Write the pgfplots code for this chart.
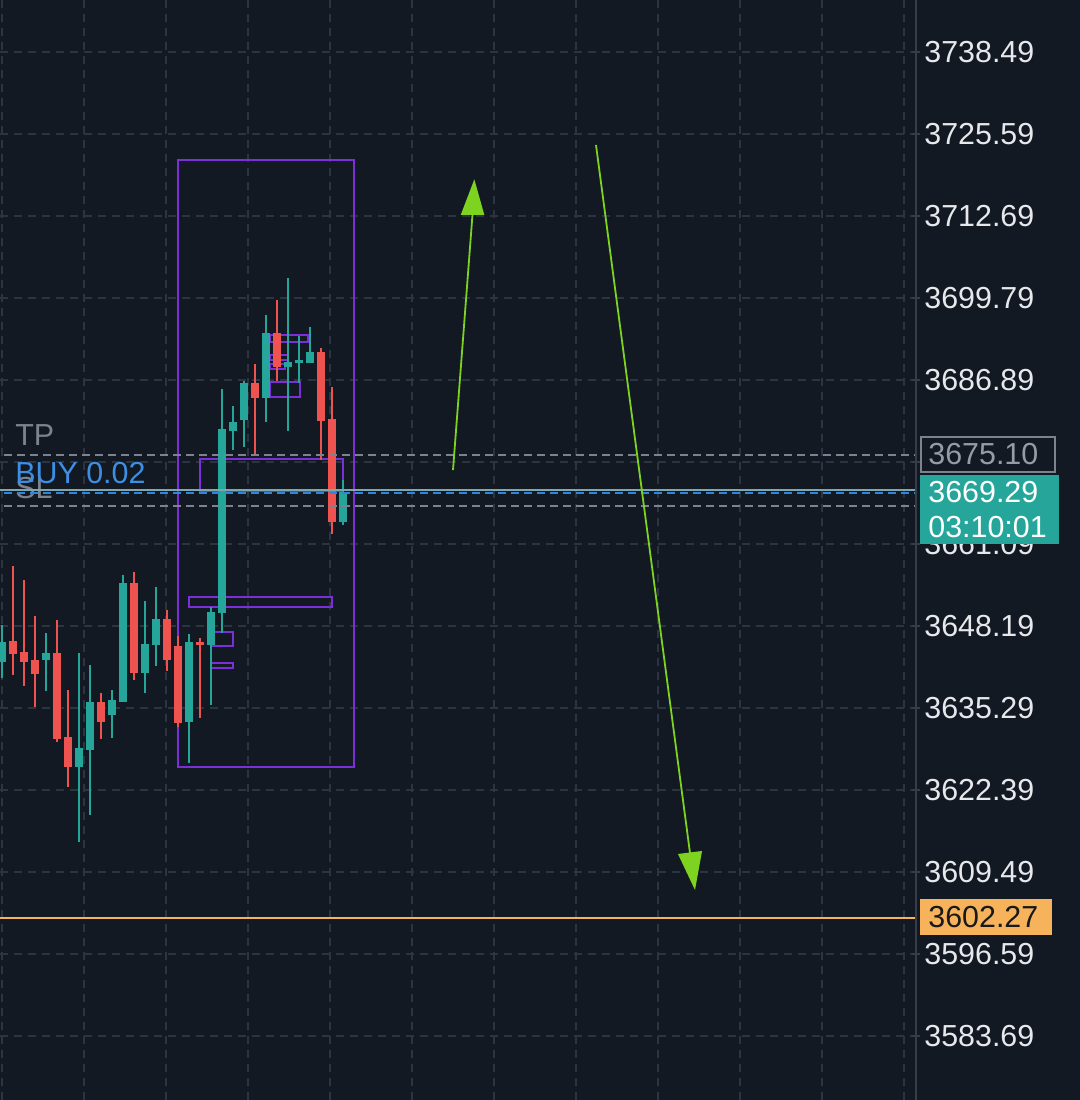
\documentclass[border=0pt]{standalone}
\usepackage{pgfplots}
\pgfplotsset{compat=1.18}
\usepackage{pgfplotstable}
\usepackage{fontspec}
\setmainfont{Liberation Sans}
\definecolor{bg}{HTML}{121923}
\definecolor{gridc}{HTML}{2B3440}
\definecolor{cUp}{HTML}{26A69A}
\definecolor{cDn}{HTML}{EF5350}
\definecolor{cPur}{HTML}{7B2FD8}
\definecolor{cLime}{HTML}{7ED321}
\definecolor{cOr}{HTML}{F7B35B}
\definecolor{tickt}{HTML}{E6E8EB}
\definecolor{lgray}{HTML}{7D838E}
\definecolor{cBlue}{HTML}{2F86DE}
\definecolor{cBuy}{HTML}{3D8FE3}
\definecolor{cCur}{HTML}{7FA6AA}
\definecolor{sep}{HTML}{363C48}

\pgfplotstableread{
i O H L C
0 3642.53 3648.35 3640.01 3645.68
4 3642.85 3647.09 3637.97 3643.95
7 3626.01 3643.95 3614.21 3629.00
8 3628.69 3642.06 3618.46 3636.24
10 3634.19 3638.13 3630.57 3636.55
11 3636.24 3656.22 3636.24 3654.96
13 3640.80 3652.13 3637.65 3645.36
14 3645.21 3654.33 3641.90 3649.30
17 3633.09 3646.93 3626.64 3645.68
19 3645.21 3651.18 3635.77 3650.40
20 3650.24 3685.48 3647.09 3679.18
21 3678.87 3682.80 3675.88 3680.29
22 3680.60 3686.73 3676.35 3686.42
24 3684.06 3697.12 3680.29 3694.29
26 3688.94 3702.94 3678.87 3689.72
27 3689.57 3693.81 3686.42 3690.04
28 3689.57 3695.23 3689.57 3691.30
31 3664.55 3671.16 3664.08 3669.29
}\upt

\pgfplotstableread{
i O H L C
1 3645.83 3657.63 3640.49 3643.79
2 3644.10 3655.43 3638.75 3642.53
3 3642.85 3649.77 3635.45 3640.64
5 3643.95 3649.14 3629.95 3630.42
6 3630.73 3638.13 3622.87 3626.01
9 3636.24 3637.65 3630.42 3633.09
12 3654.96 3656.69 3639.70 3640.80
15 3649.30 3650.71 3641.11 3642.85
16 3645.05 3646.62 3632.31 3632.93
18 3645.68 3646.31 3633.72 3645.21
23 3686.42 3689.41 3674.94 3684.06
25 3694.29 3699.48 3686.73 3688.94
29 3691.30 3691.93 3674.31 3680.44
30 3680.76 3685.79 3662.67 3664.55
}\dnt

\pgfplotsset{candle/.style={only marks, mark=*, mark size=0pt, mark options={draw=none, fill=none},
  error bars/y dir=plus, error bars/y explicit, error bars/error mark=none}}

\begin{document}
\begin{tikzpicture}
\fill[bg] (0,0) rectangle (540pt,550pt);
\useasboundingbox (0,0) rectangle (540pt,550pt);
\begin{axis}[at={(0pt,0pt)}, anchor=south west, scale only axis,
  width=458pt, height=550pt,
  xmin=-0.1818, xmax=83.09, ymin=3573.63, ymax=3746.67,
  axis line style={draw=none},
  xtick={0,7.4545,14.909,22.364,29.818,37.273,44.727,52.182,59.636,67.091,74.545,82.0},
  xmajorticks=false,
  xmajorgrids=true,
  ytick={3583.69,3596.59,3609.49,3622.39,3635.29,3648.19,3661.09,3673.99,3686.89,3699.79,3712.69,3725.59,3738.49},
  yticklabels={3583.69,3596.59,3609.49,3622.39,3635.29,3648.19,3661.09,,3686.89,3699.79,3712.69,3725.59,3738.49},
  ytick pos=right,
  tick align=center,
  major tick length=4pt,
  ytick style={draw=sep, line width=1pt},
  yticklabel style={anchor=west, inner sep=0pt, xshift=2pt, text=tickt, font=\fontsize{15.2}{18}\selectfont},
  /pgf/number format/assume math mode=true,
  ymajorgrids=true,
  major grid style={draw=gridc, line width=1pt, dash pattern=on 4pt off 3pt},
  clip=true,
]
% purple zones
\draw[cPur, line width=1pt] (axis cs:16.0,3721.50) rectangle (axis cs:32.0,3626.01);
\draw[cPur, line width=1pt] (axis cs:18.0,3674.46) rectangle (axis cs:31.0,3669.5);
\draw[cPur, line width=1pt] (axis cs:17.0,3652.76) rectangle (axis cs:30.0,3651.18);
\draw[cPur, line width=1pt] (axis cs:19.0,3647.25) rectangle (axis cs:21.0,3645.05);
\draw[cPur, line width=1pt] (axis cs:19.0,3642.37) rectangle (axis cs:21.0,3641.58);
\draw[cPur, line width=1pt] (axis cs:24.36,3693.97) rectangle (axis cs:27.82,3692.87);
\draw[cPur, line width=1pt] (axis cs:24.36,3690.83) rectangle (axis cs:26.0,3690.04);
\draw[cPur, line width=1pt] (axis cs:24.36,3689.41) rectangle (axis cs:25.7,3688.62);
\draw[cPur, line width=1pt] (axis cs:24.36,3686.58) rectangle (axis cs:27.09,3684.22);

% wicks
\addplot[candle, error bars/error bar style={line width=0.75pt, color=cUp}]
  table[x=i, y=L, y error expr=\thisrow{H}-\thisrow{L}] {\upt};
\addplot[candle, error bars/error bar style={line width=0.75pt, color=cDn}]
  table[x=i, y=L, y error expr=\thisrow{H}-\thisrow{L}] {\dnt};
% bodies
\addplot[candle, error bars/error bar style={line width=4pt, color=cUp}]
  table[x=i, y=O, y error expr=\thisrow{C}-\thisrow{O}] {\upt};
\addplot[candle, error bars/error bar style={line width=4pt, color=cDn}]
  table[x=i, y=C, y error expr=\thisrow{O}-\thisrow{C}] {\dnt};

% SL label (under lines)
\node[anchor=west, inner sep=0pt, text=lgray, font=\fontsize{15.2}{18}\selectfont] at (axis cs:1.18,3669.9) {SL};

% horizontal lines
\addplot[lgray, line width=1pt, dash pattern=on 4pt off 2.5pt] coordinates {(-1,3675.10) (84,3675.10)};
\addplot[lgray, line width=1pt, dash pattern=on 4pt off 2.5pt] coordinates {(-1,3667.07) (84,3667.07)};
\addplot[cCur, line width=0.9pt] coordinates {(-1,3669.55) (84,3669.55)};
\addplot[cBlue, line width=1pt, dash pattern=on 4pt off 2.5pt] coordinates {(-1,3669.05) (84,3669.05)};
\addplot[cOr, line width=1pt] coordinates {(-1,3602.27) (84,3602.27)};

\node[anchor=west, inner sep=0pt, text=lgray, font=\fontsize{15.2}{18}\selectfont] at (axis cs:1.18,3678.24) {TP};
\node[anchor=west, inner sep=0pt, text=cBuy, font=\fontsize{15.2}{18}\selectfont] at (axis cs:1.18,3672.26) {BUY 0.02};

% arrows
\draw[cLime, line width=0.9pt] (axis cs:41.0,3672.73) -- (axis cs:42.77,3712.85);
\fill[cLime] (axis cs:42.94,3718.46) -- (axis cs:41.70,3712.85) -- (axis cs:43.85,3712.85) -- cycle;
\draw[cLime, line width=0.9pt] (axis cs:54.0,3723.86) -- (axis cs:62.545,3612.48);
\fill[cLime] (axis cs:63.0,3606.66) -- (axis cs:61.45,3612.33) -- (axis cs:63.64,3612.80) -- cycle;
\end{axis}
% separator
\draw[sep, line width=1pt] (458pt,0pt) -- (458pt,550pt);
% price tags
\draw[lgray, fill=bg, line width=1pt] (460.5pt,314pt) rectangle (527.5pt,331.5pt);
\node[anchor=west, inner sep=0pt, text=lgray!80!white, font=\fontsize{15.2}{18}\selectfont] at (464pt,322.75pt) {3675.10};
\fill[cUp] (460pt,278pt) rectangle (529.5pt,312.5pt);
\node[anchor=west, inner sep=0pt, text=white, font=\fontsize{15.2}{18}\selectfont] at (464pt,304pt) {3669.29};
\node[anchor=west, inner sep=0pt, text=white, font=\fontsize{15.2}{18}\selectfont] at (464pt,286.5pt) {03:10:01};
\fill[cOr] (460pt,82.5pt) rectangle (526pt,100.5pt);
\node[anchor=west, inner sep=0pt, text=black!90, font=\fontsize{15.2}{18}\selectfont] at (464pt,91.5pt) {3602.27};
\end{tikzpicture}
\end{document}
